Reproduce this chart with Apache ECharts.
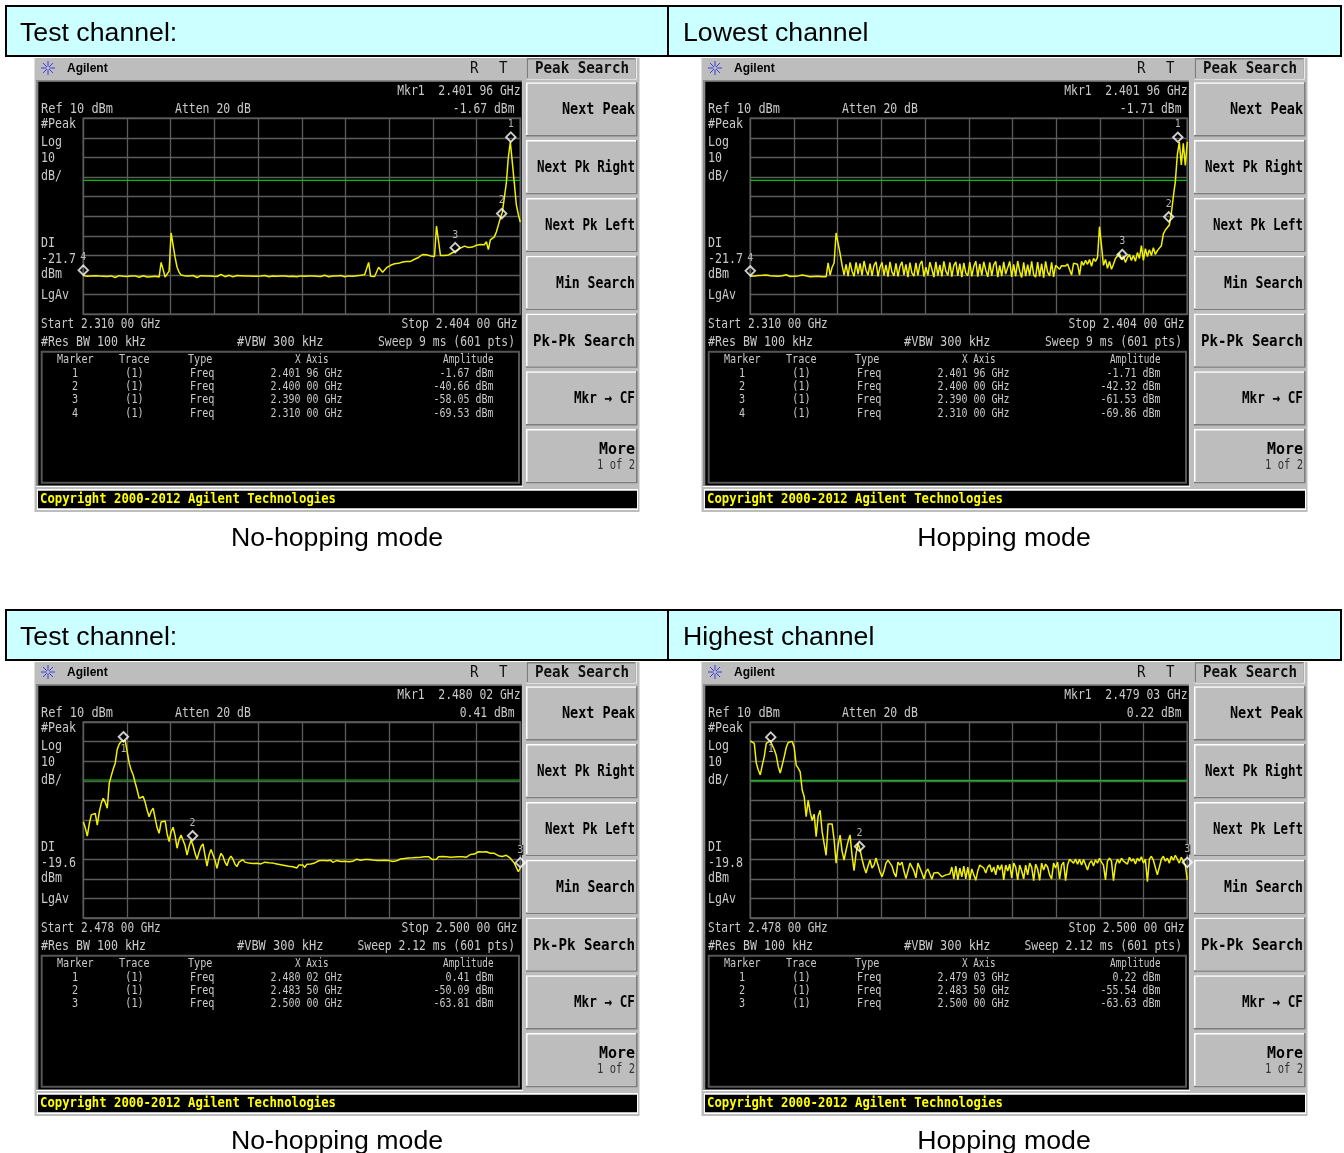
<!DOCTYPE html>
<html><head><meta charset="utf-8">
<style>html,body{margin:0;padding:0;background:#fff}#c{width:1344px;height:1153px}</style>
<script src="https://cdn.jsdelivr.net/npm/echarts@6/dist/echarts.min.js"></script>
</head><body><div id="c"></div>
<script>
// dBm readings per sweep sample, 20 samples per row, 220 samples across the span
const levelsLowNoHop=[
-70.2,-70.8,-70.6,-71,-70.4,-70.7,-70.3,-70.9,-70.5,-71.1,-70.6,-70.2,-70.7,-70.9,-70.4,-70.8,-71.2,-70.5,-70.3,-70.9,
-70.6,-70.1,-70.7,-71,-70.5,-70.8,-70.4,-70.9,-71.1,-70.6,-70.3,-70.7,-71,-70.5,-70.8,-71.3,-70.6,-70.9,-71,-63.5,
-63.2,-71,-71.2,-68,-48.5,-48,-61,-66,-68.5,-70,-69.6,-70.4,-69.8,-70.5,-70.9,-70.2,-70.7,-71.2,-70.6,-70.3,
-70.8,-70.5,-69.9,-70.4,-70.9,-70.6,-70.2,-70.7,-70.4,-69.6,-70.3,-70.8,-70.5,-70.1,-70.6,-70.9,-70.4,-70.2,-69.5,-70.3,
-70.7,-70.4,-70.9,-70.5,-70.1,-70.6,-71,-70.6,-70.2,-70.5,-69.7,-70.2,-70.6,-70.8,-70.3,-70.5,-70.9,-70.6,-70.1,-70.4,
-70.8,-70.5,-70.2,-70.7,-71,-70.6,-70.3,-70.8,-70.9,-70.4,-70.2,-70.6,-70.9,-70.5,-70.1,-70.4,-70.8,-70.6,-70.3,-70.7,
-70.4,-70.1,-70.6,-70.8,-70.3,-70.5,-70.9,-70.4,-70.7,-70.2,-70.5,-70.8,-70.1,-70.4,-70.2,-70.6,-70,-70.3,-70.6,-70.1,
-70.4,-69.8,-70.5,-63.5,-70.6,-70.5,-70.7,-70.6,-66,-66.5,-68.5,-68,-66.2,-65.5,-65,-64.6,-64.2,-63.8,-64,-63.5,
-63.3,-63.6,-63.1,-62.8,-63,-62.4,-61.9,-61.5,-61,-60.3,-59.5,-59.2,-59.6,-59.8,-60.2,-60.5,-60.5,-45,-45.5,-60,
-59.6,-60,-59.3,-59.7,-59.2,-58.6,-58.9,-57.5,-56.8,-56.2,-55.5,-55.2,-55.6,-55.9,-55.4,-55.7,-55.2,-54.8,-55.5,-54.4,
-53.8,-54.5,-53,-57,-52,-52.6,-50.5,-48,-44.5,-41,-38,-30.5,-23,-10,-2,-1.6,-23,-34,-39,-43];
const levelsLowHop=[
-70.6,-71,-70.4,-70.8,-70.2,-70.7,-70.1,-70.5,-69.9,-70.6,-70.3,-70.9,-70.4,-70,-70.6,-70.8,-70.3,-70.5,-69.8,-70.4,
-70.7,-70.2,-70.6,-70.9,-70.4,-70.7,-70,-71,-70.3,-70.6,-70.9,-70.5,-70.7,-71,-70.6,-71.1,-70.8,-71.2,-70.8,-63.8,
-70,-66,-63.8,-48.5,-47.5,-59,-65,-70,-64.5,-70.5,-63.5,-68,-70.6,-63.5,-69.5,-64,-70.2,-62.8,-67.5,-70,
-64.2,-70.4,-65,-63.2,-70.6,-66,-63.5,-70.2,-64.8,-70.8,-63.3,-68.5,-70.4,-64,-70.6,-65.5,-63.2,-70,-64.5,-71,
-63.6,-69,-70.5,-63.8,-70.2,-64.5,-62.8,-70.7,-66,-70.1,-63.4,-67,-71,-63.2,-70.3,-64.8,-70.6,-63,-68,-70.2,
-63.5,-70.8,-65,-63.2,-70.4,-64.2,-71,-63.8,-69,-70.3,-63.4,-70.6,-65.5,-62.9,-70.8,-64.3,-70.2,-63.2,-67.5,-70.9,
-63.5,-70.4,-64.8,-63,-71,-65,-70.5,-63.3,-69.5,-70.3,-63,-70.9,-64.5,-70.6,-62.8,-68,-71.2,-63.5,-70.5,-64.6,
-70.2,-63,-69.8,-71,-63.4,-70.7,-64.2,-71.3,-63,-68.5,-70.4,-63.5,-70.9,-65,-64,-67,-65.2,-64.6,-65.4,-64.3,
-65,-70,-64,-63.5,-64.5,-70,-63,-65,-62.5,-64.5,-62,-65.5,-61.5,-63,-61,-45.3,-55,-65,-62,-66.5,
-63,-67,-64.5,-61.5,-62.5,-59,-62,-60.5,-63.5,-61,-59.5,-62.5,-60,-63,-58.5,-61.5,-55,-62.5,-56.5,-60.5,
-57,-60,-56,-59.5,-57.5,-56.5,-55,-49,-47,-46,-44.4,-38.5,-30,-22.3,-8.7,-2,-13.8,-2.8,-14,-2];
const levelsHighNoHop=[
-40.9,-44,-48.2,-42,-37.4,-36.8,-36.6,-42.6,-36,-31.5,-28.9,-31,-34,-21.3,-17.5,-14,-11,-4,-1.2,0,
0.8,0.5,0,-11,-14.5,-17,-21,-24.7,-29,-28.4,-28,-31,-35,-38.3,-35.5,-34,-39,-44,-46.8,-41,
-40,-40.5,-47,-51,-46,-43.7,-48,-54.4,-50,-47.7,-48,-53,-57.9,-53.5,-50.3,-53,-57,-60,-56.5,-53.5,
-52.2,-58,-63.5,-58,-55,-56,-60.5,-64.7,-60,-57,-58.5,-61.5,-63.3,-60,-58.4,-60,-62.5,-63.8,-61.5,-60.5,
-60.2,-61.5,-61.2,-62,-61.3,-62.2,-61.6,-62.1,-61.4,-62.4,-61.9,-61.5,-62.3,-61.8,-62.6,-62,-61.7,-62.4,-61.9,-62.8,
-62.2,-63.2,-62.5,-63.6,-62.8,-63.9,-63.3,-64.5,-63,-63.7,-62.9,-64.2,-62.6,-63.4,-62.4,-63,-61.9,-62.3,-60.8,-61.2,
-60.6,-61.4,-60.8,-61.2,-60.5,-61.6,-61,-60.7,-61.5,-61.2,-61.8,-61,-60.6,-61.3,-60.4,-61.1,-60.7,-60,-60.9,-60.5,
-61,-60.2,-60.7,-60.1,-60.8,-60.4,-59.9,-60.6,-60.3,-60.7,-60.1,-60.5,-60,-60.6,-60.9,-61.2,-60.5,-60.8,-60.2,-59.9,
-60.3,-59.6,-60,-59.4,-59.8,-59.3,-59.9,-59.1,-59.6,-59,-59.4,-58.8,-59.2,-58.7,-59.3,-60.2,-60.6,-60,-58.8,-58.4,
-58.6,-58.2,-58.7,-58.5,-59,-58.6,-58.9,-58.4,-58.8,-59.2,-58.8,-59,-59,-58,-57.6,-57,-57.4,-56.4,-56.2,-56.8,
-56.3,-56.8,-56.2,-56.7,-57,-56.6,-57,-57.3,-58.2,-59,-58.6,-58.9,-58,-58.5,-59.5,-60.5,-62,-63,-66.4,-64.5];
const levelsHighHop=[
0.3,0,-0.9,-11,-14.5,-17,-12,-7.7,-0.9,0,0.4,0,-4,-7,-12.7,-16,-12,-7.7,-3,-0.5,
0,0.1,-3,-12,-13.5,-15.4,-24.7,-28,-38.3,-30,-36,-40.3,-37,-48.5,-38,-35,-46,-52,-58,-42,
-43,-42,-50,-62,-53,-47.7,-56,-60.4,-55.3,-51,-47.7,-58,-65.9,-57,-52,-55,-60,-64,-67,-63.5,
-60.4,-64.5,-63,-59.4,-63,-66.5,-69,-66,-62,-60.5,-59.5,-63.5,-67,-69,-61.5,-63,-61.5,-66,-69.9,-66,
-62,-61.5,-66,-69.5,-62,-61,-67,-70,-66.5,-65,-65.5,-70.2,-67,-66,-66.8,-67,-69,-70,-68,-67.2,
-67.6,-64,-70,-63.5,-70.5,-64.5,-69,-63.5,-70,-64,-70.5,-65,-68,-70.8,-66,-63,-62.5,-64.5,-67,-64,
-62.8,-66.5,-64,-68,-63,-65.5,-62.8,-70.5,-63,-66,-62.5,-69.5,-62,-64,-70.5,-63,-66,-70,-63,-68,
-62,-64,-71,-62.5,-65,-70.8,-62,-65.5,-62.5,-64,-68,-70,-62,-64.5,-61.5,-70,-63,-61.5,-71,-63,
-60,-59.5,-62,-60,-62.5,-60,-63,-60.2,-59.5,-65.5,-62,-60.8,-63.5,-60.3,-62,-59.5,-61.5,-63,-70.6,-61,
-59.5,-61,-71,-63,-60,-62,-59.5,-61,-60,-62.5,-59,-61,-59.8,-62.5,-59.5,-61,-58.8,-62,-60,-71.5,
-60,-58.5,-60.5,-59.5,-68,-67,-60,-58.5,-61,-59.5,-62,-58.5,-60.5,-58,-60,-62,-59,-61,-63,-70.5];
// marker tables read from the instrument
const markerFreqLowNoHop=[2.40196,2.40000,2.39000,2.31000];
const markerAmpLowNoHop=[-1.67,-40.66,-58.05,-69.53];
const markerFreqLowHop=[2.40196,2.40000,2.39000,2.31000];
const markerAmpLowHop=[-1.71,-42.32,-61.53,-69.86];
const markerFreqHighNoHop=[2.48002,2.48350,2.50000];
const markerAmpHighNoHop=[0.41,-50.09,-63.81];
const markerFreqHighHop=[2.47903,2.48350,2.50000];
const markerAmpHighHop=[0.22,-55.54,-63.63];
const softKeys=['Next Peak','Next Pk Right','Next Pk Left','Min Search','Pk-Pk Search','Mkr → CF','More'];
const softKeyWidths=[73,98,90,79,102,61,36];
const headerLabels=['Test channel:','Lowest channel','Test channel:','Highest channel'];
const captions=['No-hopping mode','Hopping mode'];

const panels=[
 {dx:0,dk:0,dy:0,top:118.3,start:2.310,stop:2.404,di:-21.7,startT:'Start 2.310 00 GHz',stopT:'Stop 2.404 00 GHz',sweep:'Sweep 9 ms (601 pts)',levels:levelsLowNoHop,mf:markerFreqLowNoHop,ma:markerAmpLowNoHop,labelPos:['top','top','top','top']},
 {dx:667,dk:668,dy:0,top:118.3,start:2.310,stop:2.404,di:-21.7,startT:'Start 2.310 00 GHz',stopT:'Stop 2.404 00 GHz',sweep:'Sweep 9 ms (601 pts)',levels:levelsLowHop,mf:markerFreqLowHop,ma:markerAmpLowHop,labelPos:['top','top','top','top']},
 {dx:0,dk:0,dy:604,top:722,start:2.478,stop:2.500,di:-19.6,startT:'Start 2.478 00 GHz',stopT:'Stop 2.500 00 GHz',sweep:'Sweep 2.12 ms (601 pts)',levels:levelsHighNoHop,mf:markerFreqHighNoHop,ma:markerAmpHighNoHop,labelPos:['bottom','top','top']},
 {dx:667,dk:668,dy:604,top:722,start:2.478,stop:2.500,di:-19.8,startT:'Start 2.478 00 GHz',stopT:'Stop 2.500 00 GHz',sweep:'Sweep 2.12 ms (601 pts)',levels:levelsHighHop,mf:markerFreqHighHop,ma:markerAmpHighHop,labelPos:['bottom','top','top']}
];

const MONO='"DejaVu Sans Mono"', SANS='"Liberation Sans"';
const SCR='#c9c9c9', G='#bdbdbd';
const gfx=[];
function rect(x,y,w,h,fill,extra){gfx.push(Object.assign({type:'rect',silent:true,z:-5,shape:{x,y,width:w,height:h},style:{fill}},extra||{}));}
function T(x,y,s,o){o=o||{};const size=o.size||14;const adv=s.length*0.602*size;
 const sx=o.w?o.w/adv:(o.pitch||6.8)/(0.602*size);
 gfx.push({type:'text',silent:true,z:5,x,y:y+(size>=13?1:0),scaleX:sx,style:{text:s,fill:o.fill||SCR,font:(o.bold?'bold ':'')+size+'px '+MONO,textAlign:o.align||'left',textVerticalAlign:'middle'}});}
function S(x,y,s,size,fill,align,bold){gfx.push({type:'text',silent:true,z:5,x,y,style:{text:s,fill:fill||'#000',font:(bold?'bold ':'')+size+'px '+SANS,textAlign:align||'left',textVerticalAlign:'middle'}});}

// header strips
[[5,headerLabels[0],headerLabels[1]],[609,headerLabels[2],headerLabels[3]]].forEach(([y,a,b])=>{
 rect(6,y+1,1335,50,'#ccffff',{style:{fill:'#ccffff',stroke:'#000',lineWidth:2}});
 gfx.push({type:'rect',silent:true,z:-4,shape:{x:667,y:y,width:2,height:52},style:{fill:'#000'}});
 S(20,y+28.5,a,26.7); S(683,y+28.5,b,26.7);
});
[539,1142].forEach(y=>{S(337,y,captions[0],26.7,'#000','center');S(1004,y,captions[1],26.7,'#000','center');});

function fmtF(f){const s=f.toFixed(5);return s.slice(0,5)+' '+s.slice(5)+' GHz';}
function fmtA(a){return a.toFixed(2)+' dBm';}

panels.forEach(p=>{
 const dx=p.dx,dk=p.dk,dy=p.dy;
 rect(dx+34.5,dy+58,dk-dx+605,454,G);
 rect(dx+36,dy+80,487,407,'#ffffff');
 rect(dx+36,dy+80,486.5,406,'#8a8a8a');
 rect(dx+38.3,dy+81.7,483.5,403.5,'#000');
 rect(dx+37,dy+489,dk-dx+601,21,'#ffffff');
 rect(dx+38,dy+490.7,dk-dx+599,17.6,'#000');
 // agilent logo + top bar
 const cx=dx+48,cy=dy+68;
 for(let k=0;k<8;k++){const a=k*Math.PI/4;gfx.push({type:'line',silent:true,z:-3,shape:{x1:cx+1.5*Math.cos(a),y1:cy+1.5*Math.sin(a),x2:cx+7*Math.cos(a),y2:cy+7*Math.sin(a)},style:{stroke:'#3c3ce0',lineWidth:1}});}
 S(dx+67,dy+68.5,'Agilent',12,'#000','left',true);
 T(dx+470,dy+68,'R',{fill:'#111',size:15,pitch:8.5});
 T(dx+499,dy+68,'T',{fill:'#111',size:15,pitch:8.5});
 // softkeys
 rect(dk+526.7,dy+58,110,21.5,'#ffffff');
 rect(dk+526.7,dy+58,109,20.5,'#7c7c7c');
 rect(dk+528,dy+59.5,107.5,19,G);
 T(dk+535,dy+68.5,'Peak Search',{fill:'#111',size:15,w:94,bold:true});
 softKeys.forEach((k,i)=>{
  const y=dy+82.3+i*57.8;
  rect(dk+526,y,111.5,54.2,'#7c7c7c');
  rect(dk+526,y,110,52.7,'#ffffff');
  rect(dk+527.5,y+1.5,108.5,51.2,G);
  const ty=k==='More'?y+20:y+27;
  T(dk+635,ty,k,{fill:'#000',size:16,bold:true,w:softKeyWidths[i],align:'right'});
 });
 T(dk+635,dy+464.5,'1 of 2',{fill:'#333',size:14,w:38,align:'right'});
 // screen annotations
 const mk='Mkr1  '+fmtF(p.mf[0]);
 T(dx+520.5,dy+90,mk,{align:'right',pitch:6.85});
 T(dx+514.5,dy+108,fmtA(p.ma[0]),{align:'right',pitch:6.85});
 T(dx+41,dy+108,'Ref 10 dBm',{pitch:7.2});
 T(dx+175,dy+108,'Atten 20 dB',{pitch:6.9});
 [['#Peak',123.5],['Log',141],['10',157.5],['dB/',175],['DI',242.5],[p.di.toFixed(1),258],['dBm',273.5],['LgAv',294]].forEach(([s,y])=>T(dx+41,dy+y,s,{pitch:7}));
 T(dx+41,dy+323.5,p.startT,{pitch:6.65});
 T(dx+517.5,dy+323.5,p.stopT,{align:'right',pitch:6.82});
 T(dx+41,dy+341,'#Res BW 100 kHz',{pitch:7});
 T(dx+237,dy+341,'#VBW 300 kHz',{pitch:7.2});
 T(dx+515,dy+341,p.sweep,{align:'right',pitch:6.85});
 // marker table
 gfx.push({type:'rect',silent:true,z:-2,shape:{x:dx+41.7,y:dy+351.7,width:477.3,height:131},style:{fill:'none',stroke:'#555',lineWidth:2}});
 const hy=dy+360;
 T(dx+57,hy,'Marker',{size:11.5,pitch:6.1});
 T(dx+119,hy,'Trace',{size:11.5,pitch:6.1});
 T(dx+188,hy,'Type',{size:11.5,pitch:6.1});
 T(dx+295,hy,'X Axis',{size:11.5,pitch:5.6});
 T(dx+493.5,hy,'Amplitude',{size:11.5,pitch:5.6,align:'right'});
 p.mf.forEach((f,i)=>{
  const y=dy+373.7+i*13.33;
  T(dx+75,y,String(i+1),{size:11.5,pitch:6.1,align:'center'});
  T(dx+134.5,y,'(1)',{size:11.5,pitch:6.1,align:'center'});
  T(dx+190,y,'Freq',{size:11.5,pitch:6.1});
  T(dx+342.5,y,fmtF(f),{size:11.5,pitch:6,align:'right'});
  T(dx+493.5,y,fmtA(p.ma[i]),{size:11.5,pitch:6,align:'right'});
 });
 T(dx+40,dy+498.5,'Copyright 2000-2012 Agilent Technologies',{fill:'#ffff00',bold:true,size:14,w:296});
});

const grids=[],xAxes=[],yAxes=[],series=[];
panels.forEach((p,g)=>{
 const span=Math.round((p.stop-p.start)*1000);
 grids.push({left:p.dx+83.3,top:p.top,width:437,height:196,show:true,borderColor:'#666',borderWidth:1.5,backgroundColor:'transparent'});
 const sl={show:true,lineStyle:{color:'#5c5c5c',width:1.3}};
 xAxes.push({type:'value',gridIndex:g,min:0,max:span,interval:span/10,axisLine:{show:false},axisTick:{show:false},axisLabel:{show:false},splitLine:sl});
 yAxes.push({type:'value',gridIndex:g,min:-90,max:10,interval:10,axisLine:{show:false},axisTick:{show:false},axisLabel:{show:false},splitLine:sl});
 series.push({type:'line',xAxisIndex:g,yAxisIndex:g,clip:false,symbol:'none',silent:true,z:3,lineStyle:{color:'#00c400',width:1.2},data:[[0,p.di],[span,p.di]]});
 series.push({type:'line',xAxisIndex:g,yAxisIndex:g,clip:false,symbol:'none',silent:true,z:4,lineStyle:{color:'#f0f000',width:1.5},data:p.levels.map((v,i)=>[i*span/219,v])});
 series.push({type:'scatter',xAxisIndex:g,yAxisIndex:g,clip:false,silent:true,z:6,symbol:'diamond',symbolSize:9.5,symbolOffset:[0,-4],
  itemStyle:{color:'rgba(0,0,0,0)',borderColor:'#fff',borderWidth:1.9},
  data:p.mf.map((f,i)=>({value:[(f-p.start)*1000,p.ma[i]],
   label:{show:true,formatter:String(i+1),position:p.labelPos[i],distance:2,color:'#ddd',fontFamily:MONO,fontSize:10,backgroundColor:(g>=2&&i===2)?'#000':'transparent'}}))});
});

const chart=echarts.init(document.getElementById('c'),null,{renderer:'canvas'});
chart.setOption({animation:false,backgroundColor:'#fff',grid:grids,xAxis:xAxes,yAxis:yAxes,series,graphic:{elements:gfx}});
</script></body></html>
